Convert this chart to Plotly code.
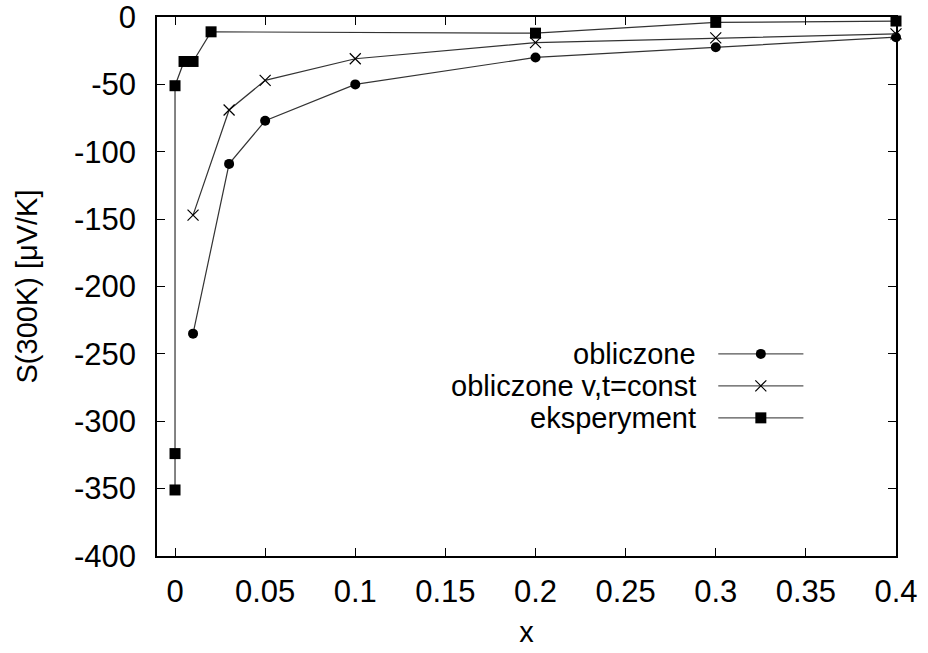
import plotly.graph_objects as go

# Thermopower S(300K) vs composition x
x_calc = [0.01, 0.03, 0.05, 0.1, 0.2, 0.3, 0.4]
s_calc = [-235, -109, -77, -50, -30, -22.5, -15]

x_const = [0.01, 0.03, 0.05, 0.1, 0.2, 0.3, 0.4]
s_const = [-147, -69, -47, -31, -19, -15.5, -12.5]

x_exp = [0, 0, 0, 0.005, 0.01, 0.02, 0.2, 0.3, 0.4]
s_exp = [-351, -324, -51, -33, -33, -11, -12, -4, -3]

x_ticks = [0, 0.05, 0.1, 0.15, 0.2, 0.25, 0.3, 0.35, 0.4]
x_tick_text = ["0", "0.05", "0.1", "0.15", "0.2", "0.25", "0.3", "0.35", "0.4"]
y_ticks = [0, -50, -100, -150, -200, -250, -300, -350, -400]
y_tick_text = ["0", "-50", "-100", "-150", "-200", "-250", "-300", "-350", "-400"]

series_names = ["obliczone", "obliczone v,t=const", "eksperyment"]

FONT = "Liberation Sans, Arial, sans-serif"
TICK_SIZE = 31
TEXT_SIZE = 29
LINE = dict(color="#333333", width=1.2)

marker_styles = [
    dict(symbol="circle", size=10, color="black"),
    dict(symbol="x-thin", size=11, color="black", line=dict(color="black", width=1.2)),
    dict(symbol="square", size=11, color="black"),
]

fig = go.Figure()
for xs, ys, name, mk in zip([x_calc, x_const, x_exp], [s_calc, s_const, s_exp],
                            series_names, marker_styles):
    fig.add_trace(go.Scatter(x=xs, y=ys, mode="lines+markers", name=name,
                             line=LINE, marker=mk, showlegend=False,
                             cliponaxis=False))

# Key: text on the left, line sample with marker on the right
key_rows_y = [0.375, 0.3157, 0.2563]
key_line_x = [0.7595, 0.8747]
key_text_x = 0.7324
for row_y, name, mk in zip(key_rows_y, series_names, marker_styles):
    fig.add_trace(go.Scatter(x=key_line_x, y=[row_y, row_y], mode="lines",
                             line=dict(color="#555555", width=1.2),
                             xaxis="x2", yaxis="y2", showlegend=False,
                             hoverinfo="skip"))
    fig.add_trace(go.Scatter(x=[sum(key_line_x) / 2], y=[row_y], mode="markers",
                             marker=mk, xaxis="x2", yaxis="y2",
                             showlegend=False, hoverinfo="skip"))
    fig.add_annotation(x=key_text_x, y=row_y, xref="x2", yref="y2", text=name,
                       showarrow=False, xanchor="right", yanchor="middle",
                       font=dict(family=FONT, size=TEXT_SIZE, color="black"))

axis_common = dict(
    showgrid=False, zeroline=False, showline=True, linecolor="black",
    linewidth=1.5, mirror="ticks", ticks="inside", ticklen=8,
    tickwidth=1.2, tickcolor="black", automargin=False,
    ticklabeloverflow="allow",
    tickfont=dict(family=FONT, size=TICK_SIZE, color="black"),
)

fig.update_layout(
    width=928, height=653,
    margin=dict(l=157, r=32, t=17, b=97),
    paper_bgcolor="white", plot_bgcolor="white",
    xaxis=dict(range=[-0.01, 0.4], tickvals=x_ticks, ticktext=x_tick_text,
               title=dict(text="x", font=dict(family=FONT, size=TEXT_SIZE, color="black"),
                          standoff=14),
               ticklabelstandoff=7, **axis_common),
    yaxis=dict(range=[-400, 0], tickvals=y_ticks, ticktext=y_tick_text,
               title=dict(text="S(300K) [μV/K]",
                          font=dict(family=FONT, size=TEXT_SIZE, color="black"),
                          standoff=28),
               ticklabelstandoff=13, **axis_common),
    xaxis2=dict(overlaying="x", range=[0, 1], visible=False),
    yaxis2=dict(overlaying="y", range=[0, 1], visible=False),
    showlegend=False,
)

fig.write_html("out.html")
